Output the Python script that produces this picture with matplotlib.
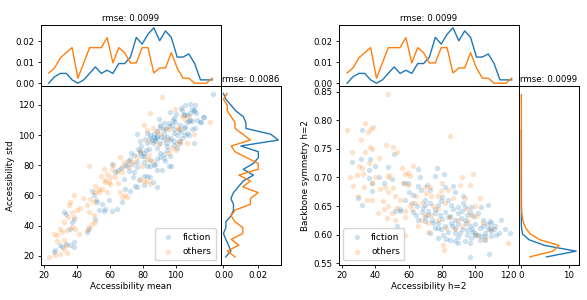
import numpy as np
import matplotlib
matplotlib.use("Agg")
import matplotlib.pyplot as plt

plt.rcParams['font.family'] = ['DejaVu Sans']
plt.rcParams['font.size'] = 6.3
plt.rcParams['xtick.labelsize'] = 6.2
plt.rcParams['ytick.labelsize'] = 6.2
plt.rcParams['axes.linewidth'] = 0.7
plt.rcParams['xtick.major.size'] = 2.5
plt.rcParams['ytick.major.size'] = 2.5
plt.rcParams['xtick.major.width'] = 0.6
plt.rcParams['ytick.major.width'] = 0.6
plt.rcParams['xtick.major.pad'] = 2
plt.rcParams['ytick.major.pad'] = 2

BLUE = '#1f77b4'
ORANGE = '#ff7f0e'

# ---------------- left panel scatter: Accessibility mean vs std ----------------
fic_mean = [122.4, 105.9, 108.5, 109.9, 111.3, 112.5, 104.9, 106.9, 108.9, 109.9, 107.9, 116.6, 115.6,
            98.8, 98.2, 96.4, 89.7, 90.7, 93.2, 94.4, 92.1, 111.5, 104.9, 106.9, 107.9, 105.9, 101.8,
            110.9, 86.7, 88.7, 84.7, 87.7, 81.6, 78.6, 76.6, 78.6, 80.6, 79.6, 76.6, 73.6, 72.5, 70.5,
            71.5, 74.6, 76.6, 80.6, 84.7, 87.7, 88.7, 90.7, 92.7, 95.8, 97.2, 61.4, 63.5, 68.5, 69.5,
            72.5, 75.6, 76.6, 80.6, 82.6, 84.7, 88.7, 52.3, 55.4, 57.4, 59.4, 61.4, 64.5, 67.5, 53.4,
            56.8, 32.1, 33.2, 37.2, 38.2, 36.2, 30.1, 31.1, 33.2, 36.2, 38.2, 38.2, 27.1, 26.1, 46.3,
            47.3, 50.9, 82.6, 84.7, 86.7, 88.7, 85.7, 87.7, 90.7, 92.7, 94.8, 96.8, 98.8, 100.8, 102.8,
            103.9, 88.7, 90.7, 94.8, 96.8, 92.7, 93.8, 98.8, 101.8, 102.8, 105.9, 106.9, 108.9, 111.0,
            112.0, 103.5, 115.0, 117.0, 104.9, 90.7, 95.8, 97.8, 99.8, 82.6, 78.6, 80.6, 84.7, 82.7,
            86.7, 88.7, 91.7, 50.5, 49.5, 51.5,
            99.0, 101.0, 97.0, 93.0, 91.0, 89.0, 86.0, 84.0, 82.0, 79.0, 77.0, 75.0, 73.0, 71.0, 69.0,
            67.0, 65.0, 74.0, 78.0, 81.0, 86.0, 95.0, 99.0, 103.0, 110.0, 113.0, 104.0, 100.0, 96.0, 94.0]
fic_std = [127.2, 120.0, 120.4, 117.6, 116.0, 114.9, 113.8, 113.2, 109.9, 109.6, 109.4, 112.3, 108.8,
           111.6, 109.9, 115.6, 110.5, 106.8, 108.3, 103.9, 104.4, 105.0, 105.0, 101.7, 100.0, 100.0, 96.2,
           94.7, 100.6, 99.5, 98.4, 97.3, 97.3, 96.2, 100.6, 89.6, 88.5, 86.3, 82.0, 80.9, 84.1, 79.8,
           76.5, 75.4, 78.7, 82.0, 79.8, 80.9, 84.1, 85.2, 87.4, 79.8, 79.8, 80.9, 75.4, 71.0, 64.4,
           63.3, 66.6, 65.5, 73.2, 73.2, 72.1, 65.9, 55.6, 54.5, 51.2, 56.7, 49.4, 51.2, 55.6, 50.1,
           49.4, 49.0, 47.9, 42.4, 44.6, 38.0, 27.0, 25.9, 28.1, 27.0, 29.2, 25.9, 23.7, 22.6, 35.8,
           38.0, 44.7, 101.3, 100.2, 99.1, 98.0, 96.9, 95.8, 94.7, 97.4, 99.1, 96.9, 93.6, 91.4, 94.7,
           98.0, 91.4, 88.1, 90.3, 85.9, 84.8, 82.6, 101.3, 103.5, 106.8, 105.7, 109.0, 114.5, 116.7,
           120.0, 118.0, 109.0, 112.3, 113.4, 105.7, 107.9, 106.8, 109.0, 94.7, 88.1, 85.9, 83.7, 79.4,
           80.5, 77.1, 77.1, 60.5, 63.0, 57.0,
           104.0, 100.0, 98.0, 101.0, 99.0, 103.0, 95.0, 91.0, 90.0, 93.0, 91.0, 87.0, 88.0, 83.0, 80.0,
           78.0, 77.0, 72.0, 70.0, 67.0, 69.0, 93.0, 96.0, 102.0, 104.0, 110.0, 117.0, 114.0, 106.0, 95.0]

oth_mean = [91.7, 99.8, 84.7, 80.6, 82.6, 103.9, 105.9, 107.9, 121.0, 101.8, 101.2, 95.8, 93.8, 94.8,
            100.8, 102.8, 106.9, 97.8, 88.7, 90.7, 83.7, 78.6, 76.6, 82.6, 85.7, 66.5, 68.5, 71.5, 74.6,
            79.6, 67.5, 56.4, 61.4, 64.5, 67.5, 58.4, 60.4, 63.5, 47.7, 51.3, 53.4, 57.4, 59.4, 60.4,
            58.4, 55.4, 53.4, 51.3, 66.5, 69.5, 67.5, 70.5, 78.6, 80.6, 82.6, 84.7, 48.3, 50.3, 46.3,
            47.3, 50.3, 51.3, 49.3, 47.3, 46.3, 38.2, 36.2, 35.2, 40.2, 37.2, 38.2, 32.1, 31.1, 34.2,
            26.1, 28.1, 37.2, 39.2, 41.2, 32.1, 33.2, 23.1, 27.1, 30.1, 32.1,
            86.0, 90.0, 84.0, 72.0, 62.0, 57.0, 55.0, 65.0, 44.0, 42.0, 35.0, 30.0, 28.0, 34.0, 96.0,
            111.0, 100.0]
oth_std = [125.2, 117.6, 114.9, 106.8, 103.5, 112.7, 110.5, 112.7, 108.8, 103.9, 105.0, 103.9, 105.0, 97.3,
           94.0, 96.2, 95.1, 91.8, 102.8, 100.6, 96.2, 89.6, 85.2, 84.1, 83.0, 85.2, 82.0, 83.0, 82.0,
           79.8, 78.7, 77.6, 77.6, 75.4, 75.4, 74.3, 72.1, 72.1, 79.3, 66.6, 64.4, 68.8, 68.8, 67.7,
           62.2, 64.4, 62.2, 62.2, 62.2, 60.0, 58.9, 58.9, 71.0, 69.9, 69.9, 67.7, 57.8, 55.6, 53.4,
           49.0, 46.8, 42.4, 41.3, 39.1, 36.9, 60.0, 55.6, 53.4, 50.1, 49.0, 45.7, 42.4, 35.8, 36.9,
           34.7, 33.6, 39.1, 38.0, 34.7, 30.3, 27.0, 19.3, 20.4, 21.5, 24.8,
           105.0, 94.0, 87.0, 79.0, 80.0, 70.0, 73.0, 68.0, 58.0, 52.0, 46.0, 38.0, 30.0, 22.0, 88.0,
           101.0, 90.0]

# ---------------- right panel scatter: Accessibility h=2 vs Backbone symmetry h=2 ----------------
fic_acc2 = [32.2, 31.4, 26.2, 36.8, 36.2, 36.4, 37.8, 38.2, 29.4, 32.2, 51.4, 47.4, 50.2, 59.8, 65.8, 66.8,
            75.8, 77.4, 81.4, 82.2, 86.8, 71.4, 72.8, 67.8, 51.8, 54.8, 52.8, 62.8, 64.8, 68.8, 69.8,
            71.8, 75.8, 77.8, 79.8, 83.8, 85.8, 89.8, 92.8, 93.8, 97.8, 103.8, 107.8, 65.8, 69.8, 72.8,
            75.8, 77.8, 79.8, 81.8, 85.8, 87.8, 89.8, 91.8, 93.8, 94.8, 96.8, 99.8, 101.8, 103.8, 105.8,
            107.8, 108.8, 109.8, 111.8, 114.8, 115.8, 121.4, 104.8, 108.8, 96.8, 93.8, 97.8, 77.8, 82.8,
            87.8, 96.8, 108.2, 84.0, 88.0, 92.0, 98.0, 100.0, 103.0, 90.0, 86.0, 80.0, 95.0, 106.0, 110.0,
            74.0, 70.0,
            73.0, 76.0, 79.0, 82.0, 85.0, 87.0, 90.0, 92.0, 95.0, 97.0, 99.0, 102.0, 105.0, 107.0, 110.0,
            112.0, 98.0, 95.0, 91.0, 88.0, 84.0, 81.0, 78.0, 75.0, 72.0, 68.0, 65.0, 62.0, 58.0, 55.0,
            60.0, 63.0, 70.0, 80.0, 88.0, 93.0, 100.0, 103.0, 106.0, 113.0, 118.0, 90.0, 85.0, 45.0,
            42.0, 40.0, 57.0, 66.0]
fic_sym2 = [0.783, 0.733, 0.728, 0.732, 0.713, 0.699, 0.690, 0.676, 0.664, 0.652, 0.742, 0.718, 0.697,
            0.690, 0.715, 0.700, 0.703, 0.716, 0.706, 0.684, 0.685, 0.686, 0.678, 0.678, 0.641, 0.641,
            0.615, 0.639, 0.635, 0.647, 0.652, 0.641, 0.638, 0.652, 0.658, 0.661, 0.652, 0.649, 0.667,
            0.649, 0.649, 0.649, 0.652, 0.626, 0.623, 0.603, 0.612, 0.620, 0.609, 0.615, 0.620, 0.603,
            0.618, 0.629, 0.626, 0.620, 0.615, 0.603, 0.600, 0.597, 0.603, 0.609, 0.612, 0.606, 0.609,
            0.603, 0.626, 0.602, 0.626, 0.623, 0.586, 0.589, 0.594, 0.594, 0.592, 0.589, 0.561, 0.566,
            0.630, 0.625, 0.610, 0.605, 0.618, 0.612, 0.595, 0.615, 0.628, 0.600, 0.590, 0.597, 0.625,
            0.630,
            0.655, 0.645, 0.635, 0.640, 0.632, 0.645, 0.638, 0.642, 0.635, 0.640, 0.632, 0.638, 0.615,
            0.618, 0.620, 0.615, 0.610, 0.608, 0.602, 0.612, 0.605, 0.600, 0.612, 0.620, 0.635, 0.640,
            0.650, 0.655, 0.660, 0.645, 0.675, 0.670, 0.660, 0.665, 0.675, 0.655, 0.600, 0.590, 0.598,
            0.600, 0.610, 0.585, 0.590, 0.690, 0.700, 0.720, 0.690, 0.685]

oth_acc2 = [47.4, 22.8, 33.8, 37.4, 38.8, 35.8, 31.4, 36.8, 26.2, 33.8, 36.2, 46.4, 50.8, 52.8, 31.8, 28.8,
            26.8, 32.8, 33.4, 37.8, 29.8, 37.8, 41.8, 47.4, 45.8, 47.8, 50.8, 51.8, 55.8, 57.8, 59.8,
            60.8, 56.8, 59.8, 64.8, 63.8, 60.8, 47.8, 49.8, 46.8, 44.8, 52.8, 57.8, 69.8, 70.8, 72.8,
            73.8, 77.8, 79.8, 83.8, 86.8, 81.8, 77.8, 73.8, 69.8, 67.8, 71.8, 84.8, 92.2, 98.8, 96.8,
            90.8, 93.8, 102.8, 100.8, 97.8, 95.8, 92.8, 100.8, 105.8, 109.8, 119.8, 80.8, 81.4, 82.8,
            57.8,
            40.0, 43.0, 30.0, 25.0, 35.0, 45.0, 55.0, 62.0, 68.0, 75.0, 78.0, 85.0, 90.0, 95.0, 100.0,
            88.0, 72.0, 66.0, 58.0, 52.0, 48.0, 42.0, 38.0, 63.0, 80.0, 105.0]
oth_sym2 = [0.846, 0.783, 0.795, 0.785, 0.788, 0.780, 0.765, 0.754, 0.745, 0.745, 0.726, 0.757, 0.754,
            0.745, 0.716, 0.704, 0.685, 0.706, 0.684, 0.690, 0.667, 0.661, 0.637, 0.700, 0.684, 0.674,
            0.681, 0.667, 0.716, 0.706, 0.708, 0.702, 0.690, 0.687, 0.667, 0.655, 0.652, 0.650, 0.638,
            0.629, 0.658, 0.647, 0.641, 0.684, 0.673, 0.684, 0.667, 0.667, 0.676, 0.678, 0.664, 0.655,
            0.626, 0.635, 0.635, 0.626, 0.621, 0.772, 0.700, 0.707, 0.687, 0.687, 0.664, 0.664, 0.632,
            0.635, 0.623, 0.615, 0.600, 0.592, 0.609, 0.585, 0.581, 0.573, 0.612, 0.600,
            0.700, 0.680, 0.720, 0.700, 0.660, 0.645, 0.660, 0.645, 0.655, 0.650, 0.645, 0.630, 0.625,
            0.645, 0.650, 0.610, 0.605, 0.615, 0.630, 0.625, 0.705, 0.735, 0.750, 0.720, 0.690, 0.620]

# ---------------- marginal distributions ----------------
# top marginal (Accessibility), bins spanning data min..max
top_lo, top_hi, top_n = 23.0, 122.2, 29
fic_top = [0.0, 0.0031, 0.0047, 0.0047, 0.0016, 0.0, 0.0016, 0.0047, 0.0078, 0.0047, 0.0062, 0.0047,
           0.0094, 0.0094, 0.0125, 0.0219, 0.0187, 0.0234, 0.0265, 0.0203, 0.0250, 0.0219, 0.0125,
           0.0125, 0.0140, 0.0094, 0.0016, 0.0016, 0.0016]
oth_top = [0.0049, 0.0073, 0.0121, 0.0146, 0.0170, 0.0024, 0.0097, 0.0170, 0.0170, 0.0170, 0.0218,
           0.0097, 0.0170, 0.0146, 0.0097, 0.0097, 0.0170, 0.0170, 0.0049, 0.0073, 0.0073, 0.0146,
           0.0073, 0.0024, 0.0024, 0.0, 0.0, 0.0, 0.0024]

# side marginal of left panel (Accessibility std), bottom -> top
side_lo, side_hi, side_n = 19.3, 127.7, 29
fic_side = [0.0014, 0.0043, 0.0029, 0.0014, 0.0, 0.0014, 0.0014, 0.0043, 0.0058, 0.0058, 0.0043,
            0.0058, 0.0086, 0.0115, 0.0173, 0.0115, 0.0173, 0.0202, 0.0202, 0.0101, 0.0317, 0.0274,
            0.0130, 0.0130, 0.0115, 0.0072, 0.0043, 0.0014, 0.0]
oth_side = [0.0067, 0.0022, 0.0089, 0.0045, 0.0112, 0.0112, 0.0067, 0.0045, 0.0067, 0.0156, 0.0156,
            0.0201, 0.0112, 0.0156, 0.0089, 0.0201, 0.0201, 0.0134, 0.0067, 0.0045, 0.0156, 0.0112,
            0.0067, 0.0067, 0.0045, 0.0022, 0.0022, 0.0, 0.0022]

# side marginal of right panel (Backbone symmetry)
fic_side2_y = [0.561, 0.571, 0.581, 0.591, 0.601, 0.611, 0.621, 0.631, 0.783]
fic_side2 = [5.3, 11.5, 4.9, 1.6, 0.25, 0.05, 0.0, 0.0, 0.0]
oth_side2_y = [0.561, 0.571, 0.581, 0.591, 0.601, 0.611, 0.621, 0.631, 0.641, 0.651, 0.845]
oth_side2 = [1.8, 6.6, 7.9, 3.9, 1.9, 0.95, 0.45, 0.2, 0.08, 0.03, 0.0]

rmse_top = "rmse: 0.0099"
rmse_side_left = "rmse: 0.0086"
rmse_side_right = "rmse: 0.0099"

# ---------------- figure ----------------
W, H = 587, 300
fig = plt.figure(figsize=(W / 100, H / 100), dpi=100)


def ax_px(x0, y0, x1, y1):
    return fig.add_axes([x0 / W, 1 - y1 / H, (x1 - x0) / W, (y1 - y0) / H])


top_x = np.linspace(top_lo, top_hi, top_n)
side_y = np.linspace(side_lo, side_hi, side_n)


def panel(x0, fx, fy, ox, oy, xlabel, ylabel, side_fic, side_oth, side_ticks,
          side_title, legend_loc, xticks, yticks, yfmt):
    x1 = x0 + 180
    main = ax_px(x0, 86, x1, 265)
    top = ax_px(x0, 25, x1, 86)
    side = ax_px(x1, 86, x1 + 60.3, 265)

    main.scatter(fx, fy, s=15, color=BLUE, alpha=0.22, linewidths=0, label='fiction')
    main.scatter(ox, oy, s=15, color=ORANGE, alpha=0.22, linewidths=0, label='others')
    main.set_xlabel(xlabel, labelpad=1.5)
    main.set_ylabel(ylabel, labelpad=2)
    main.set_xticks(xticks)
    main.set_yticks(yticks)
    if yfmt:
        main.set_yticklabels([yfmt.format(v) for v in yticks])
    leg = main.legend(loc=legend_loc, fontsize=6.5, handletextpad=0.6, borderpad=0.5,
                      labelspacing=0.6)
    for h in leg.legend_handles:
        h.set_alpha(0.22)

    top.plot(top_x, fic_top, color=BLUE, lw=1.0)
    top.plot(top_x, oth_top, color=ORANGE, lw=1.0)
    top.set_xlim(main.get_xlim())
    top.set_xticks([])
    top.set_yticks([0.0, 0.01, 0.02])
    top.set_yticklabels(['0.00', '0.01', '0.02'])
    top.set_title(rmse_top, fontsize=6.2, pad=3)

    (fyv, fvals), (oyv, ovals) = side_fic, side_oth
    side.plot(fvals, fyv, color=BLUE, lw=1.0)
    side.plot(ovals, oyv, color=ORANGE, lw=1.0)
    side.set_ylim(main.get_ylim())
    side.set_yticks([])
    side.set_xticks(side_ticks[0])
    side.set_xticklabels(side_ticks[1])
    side.set_title(side_title, fontsize=6.2, pad=3)
    return main


panel(40.7, fic_mean, fic_std, oth_mean, oth_std,
      'Accessibility mean', 'Accessibility std',
      (side_y, fic_side), (side_y, oth_side),
      ([0.0, 0.02], ['0.00', '0.02']), rmse_side_left, 'lower right',
      [20, 40, 60, 80, 100], [20, 40, 60, 80, 100, 120], None)

panel(338.6, fic_acc2, fic_sym2, oth_acc2, oth_sym2,
      'Accessibility h=2', 'Backbone symmetry h=2',
      (fic_side2_y, fic_side2), (oth_side2_y, oth_side2),
      ([0, 10], ['0', '10']), rmse_side_right, 'lower left',
      [20, 40, 60, 80, 100, 120], [0.55, 0.60, 0.65, 0.70, 0.75, 0.80, 0.85], '{:.2f}')

fig.savefig('out.png', dpi=100)
